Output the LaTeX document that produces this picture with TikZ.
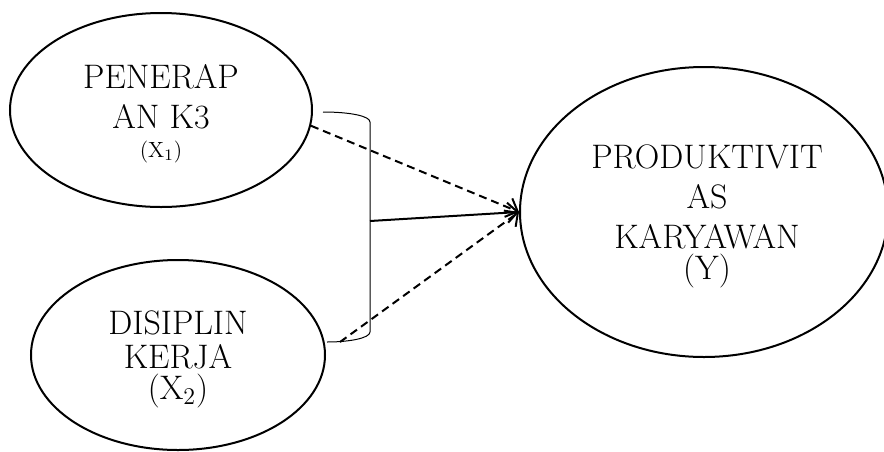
\documentclass[tikz,border=0pt]{standalone}
\usetikzlibrary{shapes.geometric,arrows.meta}
\begin{document}
\begin{tikzpicture}[x=0.5pt,y=-0.5pt,
  oval/.style={draw,ellipse,line width=1pt,inner sep=0pt},
  lbl/.style={align=center,font=\fontsize{17}{20}\selectfont,inner sep=0pt},
  arr/.style={line width=1pt,-{Straight Barb[length=5pt,width=10pt,line width=1pt]}},
  dsh/.style={arr,dash pattern=on 4pt off 2.5pt},
  brk/.style={line width=0.5pt}]
\useasboundingbox (0,0) rectangle (884,451);
\node[oval,minimum width=302pt*0.5,minimum height=194pt*0.5] (x1) at (161,110) {};
\node[oval,minimum width=294pt*0.5,minimum height=190pt*0.5] (x2) at (178,355) {};
\node[oval,minimum width=368pt*0.5,minimum height=290pt*0.5] (y) at (704,212) {};
\node[lbl] (t1) at (161,77) {PENERAP};
\node[lbl] (t2) at (161,117) {AN K3};
\node[lbl,font=\fontsize{11}{13}\selectfont] (t3) at (161,152) {(X$_1$)};
\node[lbl] (t4) at (178,323) {DISIPLIN};
\node[lbl] (t5) at (178,357) {KERJA};
\node[lbl] (t6) at (178,391) {(X$_2$)};
\node[lbl] (t7) at (707,157) {PRODUKTIVIT};
\node[lbl] (t8) at (707,197) {AS};
\node[lbl] (t9) at (707,237) {KARYAWAN};
\node[lbl] (t10) at (707,271) {(Y)};
\coordinate (b1) at (323,112);
\coordinate (b2) at (370,122);
\coordinate (bm) at (370,221);
\coordinate (b3) at (370,332);
\coordinate (b4) at (327,342);
\coordinate (d2) at (340,342);
\draw[brk] (b1) .. controls (350,112) and (370,116) .. (b2) -- (b3)
  .. controls (370,338) and (350,342) .. (b4);
\draw[arr] (bm) -- (y.west);
\draw[dsh] (x1.-6) -- (y.west);
\draw[dsh] (d2) -- (y.west);
\end{tikzpicture}
\end{document}
